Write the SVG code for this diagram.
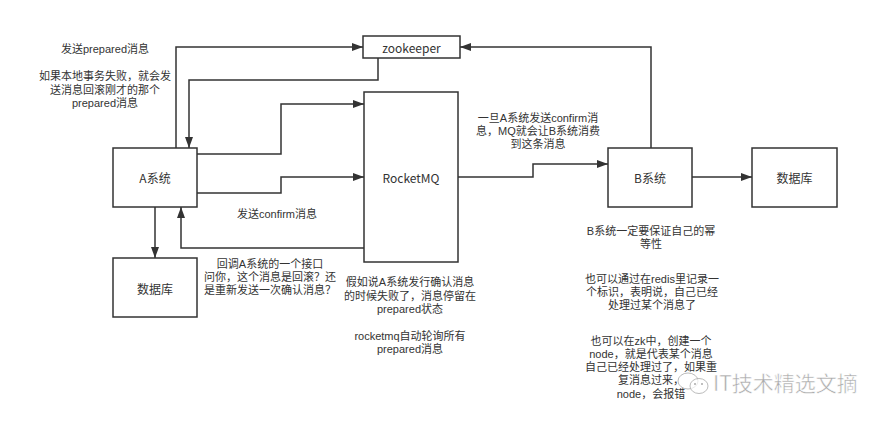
<svg xmlns="http://www.w3.org/2000/svg" width="890" height="423" viewBox="0 0 890 423">
<style>
.box{fill:#fff;stroke:#333;stroke-width:1.5}
.lbl{font-family:"Noto Sans CJK SC","Noto Sans",sans-serif;font-size:12px;fill:#333;text-anchor:middle;dominant-baseline:central}
.note{font-family:"Liberation Sans","Noto Sans CJK SC",sans-serif;font-size:11px;fill:#333;text-anchor:middle}
.edge{fill:none;stroke:#333;stroke-width:1.5}
.wm{font-family:"Noto Sans CJK SC",sans-serif;font-size:21px;fill:#aaa;stroke:#fff;stroke-width:0.5}
</style>
<defs>
<marker id="arr" markerUnits="userSpaceOnUse" markerWidth="12" markerHeight="10" refX="11" refY="4" orient="auto">
<path d="M0,0 L11,4 L0,8 z" fill="#333"/>
</marker>
</defs>
<rect width="890" height="423" fill="#fff"/>
<g id="connectors">
<path class="edge" d="M176,148 V47 H363" marker-end="url(#arr)"/>
<path class="edge" d="M378,58 V80 H189 V148" marker-end="url(#arr)"/>
<path class="edge" d="M197,154 H281 V104 H364" marker-end="url(#arr)"/>
<path class="edge" d="M197,193 H281 V177 H364" marker-end="url(#arr)"/>
<path class="edge" d="M364,248 H181 V207" marker-end="url(#arr)"/>
<path class="edge" d="M155,207 V258" marker-end="url(#arr)"/>
<path class="edge" d="M458,177 H533 V164 H608" marker-end="url(#arr)"/>
<path class="edge" d="M692,177 H752" marker-end="url(#arr)"/>
<path class="edge" d="M651,148 V47 H460" marker-end="url(#arr)"/>
</g>
<g id="zookeeper"><rect class="box" x="363" y="36" width="97" height="22"/><text class="lbl" x="411.5" y="47">zookeeper</text></g>
<g id="a-system"><rect class="box" x="113" y="148" width="84" height="59"/><text class="lbl" x="155" y="177">A系统</text></g>
<g id="rocketmq"><rect class="box" x="364" y="92" width="94" height="170"/><text class="lbl" x="411" y="177">RocketMQ</text></g>
<g id="db-a"><rect class="box" x="113" y="258" width="84" height="59"/><text class="lbl" x="155" y="288">数据库</text></g>
<g id="b-system"><rect class="box" x="608" y="148" width="84" height="59"/><text class="lbl" x="650" y="177">B系统</text></g>
<g id="db-b"><rect class="box" x="752" y="148" width="85" height="59"/><text class="lbl" x="794.5" y="177">数据库</text></g>
<g id="notes">
<text class="note" x="105" y="53">发送prepared消息</text>
<text class="note" x="105" y="80">如果本地事务失败，就会发<tspan x="105" dy="14">送消息回滚刚才的那个</tspan><tspan x="105" dy="13">prepared消息</tspan></text>
<text class="note" x="277" y="218">发送confirm消息</text>
<text class="note" x="270" y="268">回调A系统的一个接口<tspan x="270" dy="13">问你，这个消息是回滚？还</tspan><tspan x="270" dy="13">是重新发送一次确认消息？</tspan></text>
<text class="note" x="410" y="286">假如说A系统发行确认消息<tspan x="410" dy="14">的时候失败了，消息停留在</tspan><tspan x="410" dy="13">prepared状态</tspan></text>
<text class="note" x="410" y="340">rocketmq自动轮询所有<tspan x="410" dy="13">prepared消息</tspan></text>
<text class="note" x="538" y="122">一旦A系统发送confirm消<tspan x="538" dy="13">息，MQ就会让B系统消费</tspan><tspan x="538" dy="13">到这条消息</tspan></text>
<text class="note" x="651" y="235">B系统一定要保证自己的幂<tspan x="651" dy="13">等性</tspan></text>
<text class="note" x="652" y="283">也可以通过在redis里记录一<tspan x="652" dy="13">个标识，表明说，自己已经</tspan><tspan x="652" dy="13">处理过某个消息了</tspan></text>
<text class="note" x="651" y="345">也可以在zk中，创建一个<tspan x="651" dy="13">node，就是代表某个消息</tspan><tspan x="651" dy="13">自己已经处理过了，如果重</tspan><tspan x="651" dy="13">复消息过来，</tspan><tspan x="651" dy="14">node，会报错</tspan></text>
</g>
<g id="watermark">
<ellipse cx="688" cy="381" rx="10" ry="8" fill="#fff" fill-opacity="0.7" stroke="#aaa" stroke-width="0.8"/>
<ellipse cx="699" cy="386" rx="9" ry="7.5" fill="#fff" fill-opacity="0.7" stroke="#aaa" stroke-width="0.8"/>
<circle cx="695" cy="384" r="1" fill="#aaa"/><circle cx="702" cy="384" r="1" fill="#aaa"/>
<text class="wm" x="713" y="391">IT技术精选文摘</text>
</g>
</svg>
